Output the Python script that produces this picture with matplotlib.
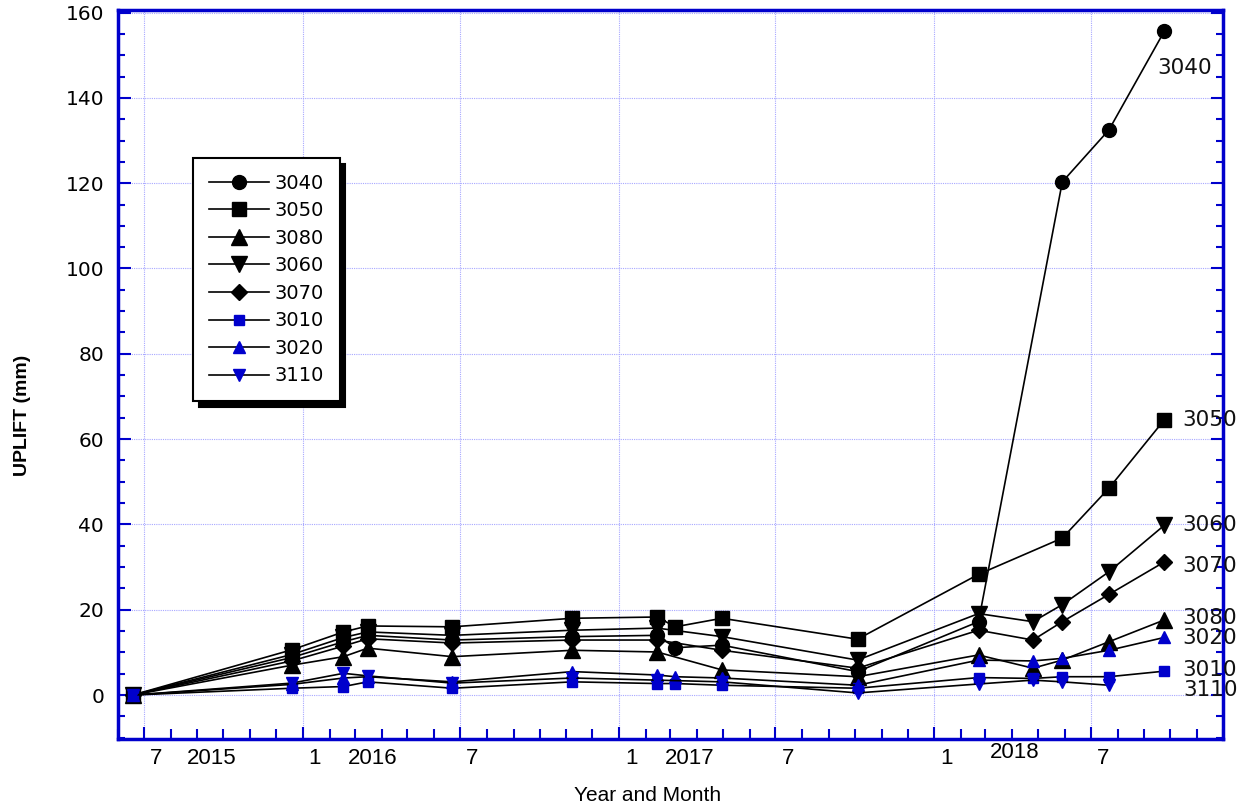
import numpy as np
import pandas as pd
import matplotlib
matplotlib.use('Agg')
import matplotlib.pyplot as plt
import matplotlib.dates as mdates
import matplotlib.transforms as mtransforms
from matplotlib.ticker import MultipleLocator

nan = np.nan

# ---------------- data ----------------
survey_dates = ['2015-06-18', '2015-12-19', '2016-02-17', '2016-03-16', '2016-06-22',
                '2016-11-08', '2017-02-14', '2017-03-07', '2017-04-30', '2017-10-04',
                '2018-02-21', '2018-04-25', '2018-05-29', '2018-07-22', '2018-09-24']

s3040 = [0, 8.8, 12.5, 14.0, 12.9, 13.7, 14.0, 11.1, 11.7, 5.5, 17.2, nan, 120.3, 132.5, 155.6]
s3050 = [0, 10.6, 14.8, 16.2, 16.0, 18.0, 18.3, 16.0, 18.0, 13.1, 28.3, nan, 36.8, 48.5, 64.5]
s3080 = [0, 7.0, 9.0, 11.0, 9.0, 10.5, 10.1, nan, 5.9, 4.3, 9.4, 6.3, 8.2, 12.5, 17.6]
s3060 = [0, 9.5, 13.5, 14.8, 14.0, 15.2, 15.7, nan, 13.7, 8.2, 19.1, 17.2, 21.2, 28.9, 39.8]
s3070 = [0, 8.0, 11.5, 13.2, 12.2, 12.9, 12.9, nan, 10.5, 6.3, 15.2, 12.9, 17.2, 23.6, 31.2]
s3010 = [0, 1.6, 2.0, 3.1, 1.6, 3.1, 2.7, 2.7, 2.3, 1.6, 4.1, 3.9, 4.3, 4.3, 5.6]
s3020 = [0, 2.5, 4.0, 4.3, 3.1, 5.5, 4.7, 4.3, 4.0, 2.3, 8.2, 8.0, 8.6, 10.5, 13.5]
s3110 = [0, 2.8, 5.1, 4.5, 2.8, 4.0, 3.5, nan, 3.1, 0.5, 2.6, 3.5, 3.1, 2.3, nan]

series_names = ['3040', '3050', '3080', '3060', '3070', '3010', '3020', '3110']
series_values = [s3040, s3050, s3080, s3060, s3070, s3010, s3020, s3110]

month_label_dates = ['2015-07-15', '2016-01-15', '2016-07-15', '2017-01-15',
                     '2017-07-15', '2018-01-15', '2018-07-15']
month_labels = ['7', '1', '7', '1', '7', '1', '7']
year_label_dates = ['2015-09-17', '2016-03-22', '2017-03-24', '2018-04-04']
year_labels = ['2015', '2016', '2017', '2018']

# ---------------- styles ----------------
BLUE = '#0000cc'
GRID = '#a8a8ff'
styles = {
    '3040': dict(marker='o', ms=10, mfc='black', mec='black'),
    '3050': dict(marker='s', ms=10, mfc='black', mec='black'),
    '3080': dict(marker='^', ms=11, mfc='black', mec='black'),
    '3060': dict(marker='v', ms=11, mfc='black', mec='black'),
    '3070': dict(marker='D', ms=8, mfc='black', mec='black'),
    '3010': dict(marker='s', ms=6.5, mfc=BLUE, mec=BLUE),
    '3020': dict(marker='^', ms=8, mfc=BLUE, mec=BLUE),
    '3110': dict(marker='v', ms=8, mfc=BLUE, mec=BLUE),
}
# label offsets (pixels) relative to each series' last point
label_offsets = {
    '3040': (-7, -37, 'left'),
    '3050': (18, 0, 'left'),
    '3060': (18, 0, 'left'),
    '3070': (18, -4, 'left'),
    '3080': (18, 2, 'left'),
    '3020': (18, -1, 'left'),
    '3010': (18, 1, 'left'),
    '3110': (74, -5, 'left'),
}

fig = plt.figure(figsize=(12.5, 8.09), dpi=100)
ax = fig.add_axes([118 / 1250, 1 - 739 / 809, (1223 - 118) / 1250, (739 - 10) / 809])

dates = pd.to_datetime(survey_dates)
for name, vals in zip(series_names, series_values):
    v = np.array(vals, dtype=float)
    mask = ~np.isnan(v)
    ax.plot(dates[mask], v[mask], color='black', lw=1.2, label=name,
            zorder=3, **styles[name])
    last = np.where(mask)[0][-1]
    dx, dy, ha = label_offsets[name]
    ax.annotate(name, xy=(mdates.date2num(dates[last]), v[last]),
                xytext=(dx, dy), textcoords='offset pixels',
                ha=ha, va='center', fontsize=15.5, family='DejaVu Sans',
                color='#111111')

ax.set_xlim(pd.Timestamp('2015-06-01'), pd.Timestamp('2018-12-01'))
ax.set_ylim(-10.3, 160.6)

# y axis
ax.yaxis.set_major_locator(MultipleLocator(20))
ax.yaxis.set_minor_locator(MultipleLocator(5))
ax.tick_params(axis='y', which='both', direction='in', left=True, right=True,
               color=BLUE, width=1.5, labelsize=14.5, pad=10)
ax.tick_params(axis='y', which='major', length=9)
ax.tick_params(axis='y', which='minor', length=5)
for t in ax.get_yticklabels():
    t.set_family('DejaVu Sans')

# x axis
ax.xaxis.set_major_locator(mdates.MonthLocator(bymonth=[1, 7]))
ax.xaxis.set_minor_locator(mdates.MonthLocator())
ax.tick_params(axis='x', which='both', direction='in', bottom=True, top=False,
               color=BLUE, width=1.5, labelbottom=False)
ax.tick_params(axis='x', which='major', length=9)
ax.tick_params(axis='x', which='minor', length=7)

trans = mtransforms.blended_transform_factory(ax.transData, ax.transAxes)
for d, lab in zip(month_label_dates, month_labels):
    ax.text(pd.Timestamp(d), -0.027, lab, transform=trans, ha='center', va='center',
            fontsize=16, family=['Liberation Sans', 'DejaVu Sans'])
for d, lab in zip(year_label_dates, year_labels):
    yy = -0.019 if lab == '2018' else -0.027
    ax.text(pd.Timestamp(d), yy, lab, transform=trans, ha='center', va='center',
            fontsize=16, family=['Liberation Sans', 'DejaVu Sans'])

ax.grid(True, which='major', color=GRID, lw=0.8, ls=(0, (1, 1)), zorder=0)

for sp in ax.spines.values():
    sp.set_color(BLUE)
    sp.set_linewidth(2.5)

ax.set_xlabel('Year and Month', fontsize=15, family=['Liberation Sans', 'DejaVu Sans'])
ax.xaxis.set_label_coords((648 - 118) / 1105, (739 - 786) / 729)
ax.set_ylabel('UPLIFT (mm)', fontsize=14, fontweight='bold',
              family=['Liberation Sans', 'DejaVu Sans'])
ax.yaxis.set_label_coords((31 - 118) / 1105, (739 - 415) / 729)

leg = ax.legend(loc='upper left', bbox_to_anchor=((193 - 118) / 1105, (739 - 158) / 729),
                borderaxespad=0, fancybox=False, edgecolor='black', framealpha=1,
                prop={'family': 'DejaVu Sans', 'size': 14},
                handlelength=3.1, handletextpad=0.3, labelspacing=0.44, borderpad=0.8,
                shadow={'ox': 4, 'oy': -4, 'color': 'black', 'alpha': 1})
leg.get_frame().set_linewidth(1.5)

fig.savefig('out.png', dpi=100, facecolor='white')
